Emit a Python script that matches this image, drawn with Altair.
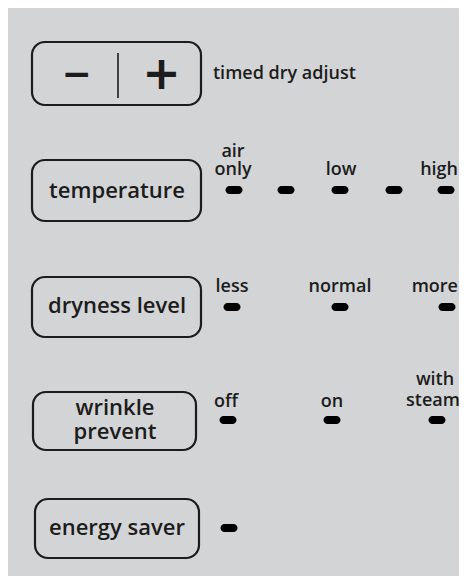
import altair as alt
import pandas as pd

# ---------------- data (panel coordinates, pixels of the 467x576 picture) ----------------
button_names = ["timed dry adjust", "temperature", "dryness level", "wrinkle prevent", "energy saver"]
box_left = [32, 32, 32, 33, 35]
box_right = [201, 201, 201, 196, 199]
box_top = [42, 160, 277, 392, 499]
box_bottom = [105, 221, 337, 450, 558]

caption_lines = ["temperature", "dryness level", "wrinkle", "prevent", "energy saver"]
caption_x = [117, 117, 115, 115, 117]
caption_y = [198, 313, 415, 439, 535]

adjust_title = ["timed dry adjust"]
adjust_title_x = [213]
adjust_title_y = [79]

minus_sym = ["−"]
minus_x = [76.5]
minus_y = [75]
plus_sym = ["+"]
plus_x = [161.5]
plus_y = [74.5]

divider_x = [118]
divider_top = [53]
divider_bottom = [98]

led_group = ["temperature"] * 5 + ["dryness level"] * 3 + ["wrinkle prevent"] * 3 + ["energy saver"]
led_x = [234, 286, 340, 394, 446, 232, 340, 447, 228, 332, 437, 229]
led_y = [190, 190, 190, 190, 190, 307, 307, 307, 420, 420, 420, 528]

# labels centred over their light; the two at the panel's right edge are right-aligned to it
option_labels = ["air", "only", "low", "less", "normal", "off", "on", "with", "steam"]
option_x = [233, 233, 341, 232, 340, 226, 332, 435, 433]
option_y = [157, 175, 175, 292, 292, 407, 407, 385, 406]
edge_labels = ["high", "more"]
edge_x = [458, 458]
edge_y = [175, 292]

# ---------------- styling ----------------
BG = "#d3d4d6"
INK = "#1c1c1c"
FONT = "Open Sans"

W, H = 451, 568
xs = alt.Scale(domain=[8, 8 + W], nice=False, zero=False)
ys = alt.Scale(domain=[8, 8 + H], reverse=True, nice=False, zero=False)

boxes = pd.DataFrame({"name": button_names, "x": box_left, "x2": box_right,
                      "y": box_top, "y2": box_bottom})
captions = pd.DataFrame({"t": caption_lines, "x": caption_x, "y": caption_y})
title_df = pd.DataFrame({"t": adjust_title, "x": adjust_title_x, "y": adjust_title_y})
minus_df = pd.DataFrame({"t": minus_sym, "x": minus_x, "y": minus_y})
plus_df = pd.DataFrame({"t": plus_sym, "x": plus_x, "y": plus_y})
div_df = pd.DataFrame({"x": divider_x, "y": divider_top, "y2": divider_bottom})
leds = pd.DataFrame({"g": led_group, "x": led_x, "y": led_y})
opts = pd.DataFrame({"t": option_labels, "x": option_x, "y": option_y})
edge_df = pd.DataFrame({"t": edge_labels, "x": edge_x, "y": edge_y})

X = lambda: alt.X("x:Q", scale=xs, axis=None)
Y = lambda: alt.Y("y:Q", scale=ys, axis=None)

box_layer = alt.Chart(boxes).mark_rect(
    fill=BG, stroke=INK, strokeWidth=2.2, cornerRadius=13
).encode(x=X(), x2="x2:Q", y=Y(), y2="y2:Q")

div_layer = alt.Chart(div_df).mark_rule(color=INK, strokeWidth=1.6).encode(
    x=X(), y=Y(), y2="y2:Q")

minus_layer = alt.Chart(minus_df).mark_text(
    font="DejaVu Sans", fontWeight="bold", fontSize=36, color=INK, baseline="middle", align="center"
).encode(x=X(), y=Y(), text="t:N")

plus_layer = alt.Chart(plus_df).mark_text(
    font="DejaVu Sans", fontWeight="bold", fontSize=46, color=INK, baseline="middle", align="center"
).encode(x=X(), y=Y(), text="t:N")

caption_layer = alt.Chart(captions).mark_text(
    font=FONT, fontSize=22, fontWeight=600, color=INK, baseline="alphabetic", align="center"
).encode(x=X(), y=Y(), text="t:N")

title_layer = alt.Chart(title_df).mark_text(
    font=FONT, fontSize=18, fontWeight=600, color=INK, baseline="alphabetic", align="left"
).encode(x=X(), y=Y(), text="t:N")

opt_layer = alt.Chart(opts).mark_text(
    font=FONT, fontSize=18, fontWeight=600, color=INK, baseline="alphabetic", align="center"
).encode(x=X(), y=Y(), text="t:N")

edge_layer = alt.Chart(edge_df).mark_text(
    font=FONT, fontSize=18, fontWeight=600, color=INK, baseline="alphabetic", align="right"
).encode(x=X(), y=Y(), text="t:N")

led_layer = alt.Chart(leds).mark_tick(
    orient="horizontal", size=17, thickness=8, cornerRadius=4, color="#000000", opacity=1
).encode(x=X(), y=Y())

chart = alt.layer(
    box_layer, div_layer, minus_layer, plus_layer, caption_layer, title_layer,
    opt_layer, edge_layer, led_layer
).properties(
    width=W, height=H, padding=0, autosize="none", background=BG
).configure_view(strokeWidth=0)

chart.save("out.html", embed_options={"renderer": "svg", "actions": False})
